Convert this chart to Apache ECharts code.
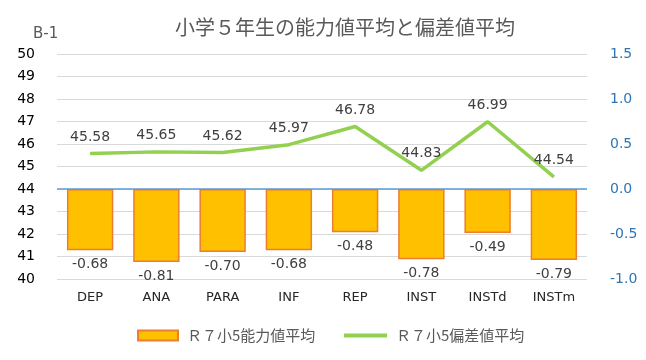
<!DOCTYPE html>
<html lang="ja">
<head>
    <meta charset="UTF-8">
    <title>B-1</title>
    <script src="https://cdn.jsdelivr.net/npm/echarts@6/dist/echarts.min.js"></script>
</head>
<style>
html,body{margin: 0;padding: 0;background: #fff}
#chartBox{width: 646px;height: 360px}
</style>
<body>
    <div id="chartBox"></div>
</body>
<script>
// 元データ
let categories = ['DEP', 'ANA', 'PARA', 'INF', 'REP', 'INST', 'INSTd', 'INSTm'];
let abilityAvg = [-0.68, -0.81, -0.70, -0.68, -0.48, -0.78, -0.49, -0.79];
let deviationAvg = [45.58, 45.65, 45.62, 45.97, 46.78, 44.83, 46.99, 44.54];
let barName = 'Ｒ７小5能力値平均';
let lineName = 'Ｒ７小5偏差値平均';

let cjkFont = '"Noto Sans CJK JP", sans-serif';
let numFont = '"DejaVu Sans", sans-serif';

let chartObj = echarts.init(document.getElementById('chartBox'));
let option = {
    animation: false,
    textStyle: {fontFamily: cjkFont},
    title: [
        {
            text: '小学５年生の能力値平均と偏差値平均',
            left: 340,
            textAlign: 'center',
            top: 12,
            textStyle: {fontSize: 20, fontWeight: 'normal', color: '#595959', fontFamily: cjkFont}
        },
        {
            text: 'B-1',
            left: 28,
            top: 22,
            textStyle: {fontSize: 15, fontWeight: 'normal', color: '#595959', fontFamily: numFont}
        }
    ],
    grid: {left: 57, right: 59, top: 54, bottom: 81},
    legend: [
        {
            left: 132,
            top: 323,
            itemWidth: 40,
            itemHeight: 10,
            textStyle: {fontSize: 15, color: '#595959', padding: [0, 0, 0, 4]},
            data: [{name: barName, icon: 'rect'}]
        },
        {
            left: 339,
            top: 323,
            itemWidth: 43,
            itemHeight: 4,
            textStyle: {fontSize: 15, color: '#595959', padding: [0, 0, 0, 4]},
            data: [{name: lineName, icon: 'rect', itemStyle: {color: '#92D050', borderWidth: 0}}]
        }
    ],
    xAxis: {
        type: 'category',
        data: categories,
        axisLine: {show: false},
        axisTick: {show: false},
        axisLabel: {color: '#262626', fontSize: 13, margin: 12, fontFamily: numFont}
    },
    yAxis: [
        {
            type: 'value',
            min: 40,
            max: 50,
            interval: 1,
            axisLabel: {color: '#000', fontSize: 14, margin: 22, fontFamily: numFont},
            splitLine: {lineStyle: {color: '#d9d9d9', width: 1}}
        },
        {
            type: 'value',
            min: -1.0,
            max: 1.5,
            interval: 0.5,
            axisLabel: {
                color: '#2E75B6', fontSize: 14, margin: 23, fontFamily: numFont,
                formatter: v => v.toFixed(1)
            },
            splitLine: {show: false}
        }
    ],
    series: [
        {
            type: 'bar',
            name: barName,
            yAxisIndex: 1,
            data: abilityAvg,
            barWidth: '70%',
            itemStyle: {color: '#FFC000', borderColor: '#ED7D31', borderWidth: 1.5},
            label: {
                show: true,
                position: 'bottom',
                distance: 7,
                color: '#404040',
                fontSize: 14,
                fontFamily: numFont,
                formatter: p => p.value.toFixed(2)
            },
            markLine: {
                silent: true,
                symbol: 'none',
                label: {show: false},
                lineStyle: {color: '#5B9BD5', type: 'solid', width: 1.5},
                data: [{yAxis: 0}]
            }
        },
        {
            type: 'line',
            name: lineName,
            yAxisIndex: 0,
            data: deviationAvg,
            symbol: 'circle',
            symbolSize: 1,
            lineStyle: {color: '#92D050', width: 3.5},
            itemStyle: {color: '#92D050'},
            label: {
                show: true,
                position: 'top',
                distance: 9,
                color: '#404040',
                fontSize: 14,
                fontFamily: numFont,
                formatter: p => p.value.toFixed(2)
            }
        }
    ]
};
chartObj.setOption(option);
</script>
</html>
